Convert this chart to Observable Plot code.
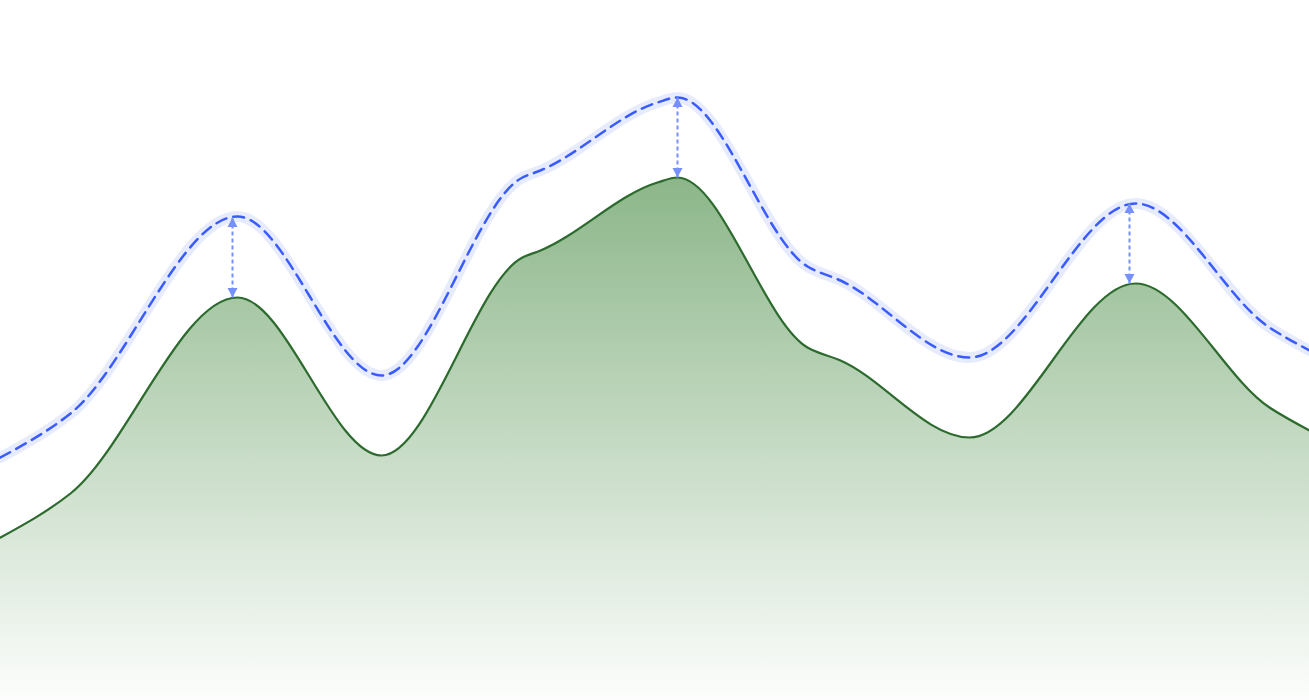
<!DOCTYPE html>
<html>
<head>
<meta charset="utf-8">
<script src="https://cdn.jsdelivr.net/npm/d3@7"></script>
<script src="https://cdn.jsdelivr.net/npm/@observablehq/plot@0.6"></script>
<style>
  html, body { margin: 0; padding: 0; background: #fff; overflow: hidden; }
  #chart svg { display: block; }
</style>
</head>
<body>
<div id="chart"></div>
<script>
// Positions along the x axis (data units)
const xs = [0, 70, 237, 381, 522, 540, 657, 677, 807, 840, 969, 1135, 1269, 1309];
// Actual series (green area)
const actual = [163, 207, 403, 245, 443, 450, 518, 523, 353, 340, 263, 417, 293, 270];
// Upper series (blue dashed)
const upper = [243, 287, 484, 325, 523, 530, 598, 603, 434, 420, 343, 497, 373, 350];
// Peaks linked by double arrows
const peakX = [232, 677, 1129];
const peakUpper = [483, 603, 497];
const peakActual = [403, 523, 417];

const rows = xs.map((x, i) => ({x, actual: actual[i], upper: upper[i]}));
const peaks = peakX.map((x, i) => ({x, top: peakUpper[i], bottom: peakActual[i]}));

const triUp = {draw(ctx, size) {
  const r = Math.sqrt(size / Math.PI);
  ctx.moveTo(0, 0); ctx.lineTo(r, 1.9 * r); ctx.lineTo(-r, 1.9 * r); ctx.closePath();
}};
const triDown = {draw(ctx, size) {
  const r = Math.sqrt(size / Math.PI);
  ctx.moveTo(0, 0); ctx.lineTo(r, -1.9 * r); ctx.lineTo(-r, -1.9 * r); ctx.closePath();
}};

const defs = () => {
  const d = d3.create("svg:defs");
  const g = d.append("linearGradient").attr("id", "areaGrad")
    .attr("x1", 0).attr("y1", 0).attr("x2", 0).attr("y2", 1);
  g.append("stop").attr("offset", "0%").attr("stop-color", "#7fae7c").attr("stop-opacity", 0.9);
  g.append("stop").attr("offset", "100%").attr("stop-color", "#7fae7c").attr("stop-opacity", 0.02);
  return d.node();
};

const chart = Plot.plot({
  width: 1309,
  height: 700,
  margin: 0,
  x: {domain: [0, 1309], axis: null},
  y: {domain: [0, 700], axis: null},
  marks: [
    defs,
    Plot.areaY(rows, {x: "x", y1: 0, y2: "actual", curve: "monotone-x", fill: "url(#areaGrad)"}),
    Plot.line(rows, {x: "x", y: "actual", curve: "monotone-x", stroke: "#2d6a2e", strokeWidth: 2.2}),
    Plot.line(rows, {x: "x", y: "upper", curve: "monotone-x", stroke: "#e7ebfe", strokeWidth: 11, strokeLinejoin: "round", strokeLinecap: "round"}),
    Plot.line(rows, {x: "x", y: "upper", curve: "monotone-x", stroke: "#3a5cff", strokeWidth: 2.5, strokeDasharray: "11,7"}),
    Plot.link(peaks, {x1: "x", x2: "x", y1: "top", y2: "bottom", stroke: "#7690ff", strokeWidth: 2, strokeDasharray: "4,3"}),
    Plot.dot(peaks, {x: "x", y: "top", symbol: triUp, r: 5, fill: "#7690ff", stroke: "none"}),
    Plot.dot(peaks, {x: "x", y: "bottom", symbol: triDown, r: 5, fill: "#7690ff", stroke: "none"})
  ]
});
document.getElementById("chart").append(chart);
</script>
</body>
</html>
